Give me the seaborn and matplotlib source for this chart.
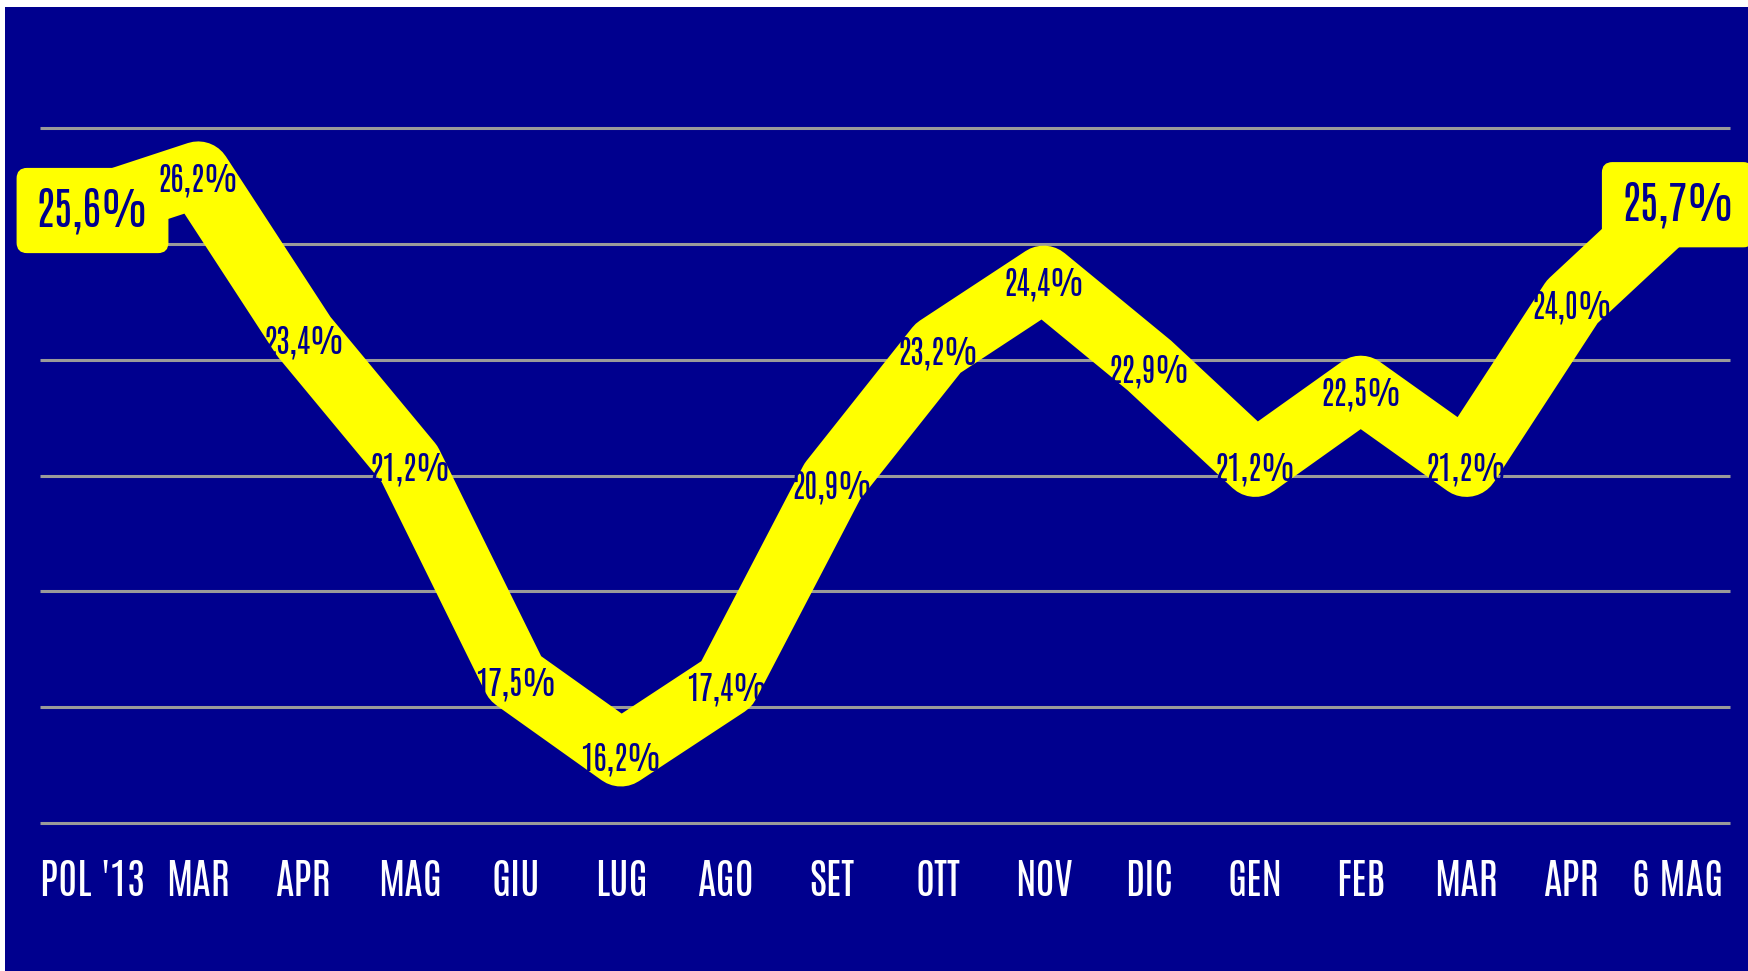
import matplotlib
matplotlib.use("Agg")
import matplotlib.pyplot as plt
import seaborn as sns
import pandas as pd

# --- dati ---
mesi = ["POL '13", "MAR", "APR", "MAG", "GIU", "LUG", "AGO", "SET",
        "OTT", "NOV", "DIC", "GEN", "FEB", "MAR", "APR", "6 MAG"]
valori = [25.6, 26.2, 23.4, 21.2, 17.5, 16.2, 17.4, 20.9,
          23.2, 24.4, 22.9, 21.2, 22.5, 21.2, 24.0, 25.7]
griglia = [15, 17, 19, 21, 23, 25, 27]

BLU = "#00008E"
GIALLO = "#FFFF00"

sns.set_theme(style="white")
plt.rcParams["font.family"] = ["Antonio", "Barlow Condensed", "DejaVu Sans"]

df = pd.DataFrame({"pos": range(len(mesi)), "valore": valori})

fig = plt.figure(figsize=(17.48, 9.71), dpi=100, facecolor="white")
ax = fig.add_axes([5 / 1748, 0, 1743 / 1748, 964 / 971])
ax.set_facecolor(BLU)
for s in ax.spines.values():
    s.set_visible(False)

# linee orizzontali
ax.hlines(griglia, -0.497, 15.49, color="#9a9a9a", lw=2.2, zorder=1)

# linea gialla
sns.lineplot(data=df, x="pos", y="valore", color=GIALLO, lw=47.5,
             solid_joinstyle="round", solid_capstyle="butt", zorder=2, ax=ax)

def fmt(v):
    return f"{v:.1f}".replace(".", ",") + "%"

ultimo = len(valori) - 1
for i, v in enumerate(valori):
    if i == 0 or i == ultimo:
        ax.annotate(fmt(v), (i, v), xytext=(0, -1), textcoords="offset points",
                    color=BLU, fontsize=32, ha="center", va="center", zorder=4,
                    bbox=dict(boxstyle="round,pad=0.42,rounding_size=0.22",
                              fc=GIALLO, ec=GIALLO))
    else:
        ax.annotate(fmt(v), (i, v), xytext=(0, -4), textcoords="offset points",
                    color=BLU, fontsize=23, ha="center", va="center", zorder=4)

# etichette mesi
for i, m in enumerate(mesi):
    ax.text(i, 14.01, m, color="white", fontsize=30, ha="center", va="center")

ax.set_xlim(-0.828, 15.664)
ax.set_ylim(12.445, 29.09)
ax.set_xticks([])
ax.set_yticks([])
ax.set_xlabel("")
ax.set_ylabel("")

fig.savefig("out.png", dpi=100, facecolor="white")
